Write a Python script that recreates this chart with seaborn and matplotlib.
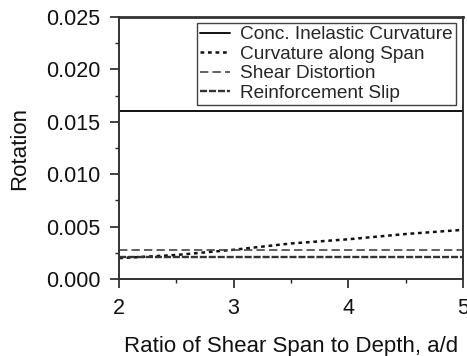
import numpy as np
import pandas as pd
import seaborn as sns
import matplotlib.pyplot as plt
from matplotlib.ticker import MultipleLocator

# ratio of shear span to depth
ad_ratio = [2.0, 2.5, 3.0, 3.5, 4.0, 4.5, 5.0]

# rotation components
conc_inelastic = [0.0160, 0.0160, 0.0160, 0.0160, 0.0160, 0.0160, 0.0160]
curv_along_span = [0.0020, 0.0023, 0.0028, 0.0034, 0.0038, 0.0043, 0.0047]
shear_distortion = [0.0028, 0.0028, 0.0028, 0.0028, 0.0028, 0.0028, 0.0028]
reinf_slip = [0.0021, 0.0021, 0.0021, 0.0021, 0.0021, 0.0021, 0.0021]

series_names = ["Conc. Inelastic Curvature", "Curvature along Span",
                "Shear Distortion", "Reinforcement Slip"]

sns.set_style("ticks")
plt.rcParams["font.family"] = ["Liberation Sans", "DejaVu Sans"]

df = pd.DataFrame({
    "ad": ad_ratio * 4,
    "rotation": conc_inelastic + curv_along_span + shear_distortion + reinf_slip,
    "component": np.repeat(series_names, len(ad_ratio)),
})

styles = {
    "Conc. Inelastic Curvature": dict(color="#111111", lw=1.4, dashes=None),
    "Curvature along Span": dict(color="#111111", lw=1.8, dashes=(1.5, 1.5)),
    "Shear Distortion": dict(color="#444444", lw=1.2, dashes=(5, 2.5)),
    "Reinforcement Slip": dict(color="#333333", lw=1.7, dashes=(3, 0.8)),
}

fig = plt.figure(figsize=(4.67, 3.56), dpi=100)
ax = fig.add_axes([0.255, 0.216, 0.736, 0.736])

for name in series_names:
    st = styles[name]
    sub = df[df["component"] == name]
    sns.lineplot(data=sub, x="ad", y="rotation", ax=ax, color=st["color"],
                 linewidth=st["lw"], label=name)
    if st["dashes"] is not None:
        ax.lines[-1].set_dashes(st["dashes"])

ax.set_xlim(2, 5)
ax.set_ylim(0, 0.025)
ax.xaxis.set_major_locator(MultipleLocator(1))
ax.xaxis.set_minor_locator(MultipleLocator(0.5))
ax.yaxis.set_major_locator(MultipleLocator(0.005))
ax.yaxis.set_minor_locator(MultipleLocator(0.0025))
ax.yaxis.set_major_formatter(plt.FormatStrFormatter("%.3f"))
ax.tick_params(axis="both", which="major", direction="out", length=6.5, width=1.2,
               labelsize=15.5, color="#222222", labelcolor="#111111", pad=7)
ax.tick_params(axis="both", which="minor", direction="out", length=3, width=1.0,
               color="#222222")
for sp in ax.spines.values():
    sp.set_visible(True)
    sp.set_color("#333333")
    sp.set_linewidth(1.4)
ax.spines["top"].set_linewidth(2.0)

ax.set_xlabel("Ratio of Shear Span to Depth, a/d", fontsize=16, color="#111111", labelpad=12)
ax.set_ylabel("Rotation", fontsize=16, color="#111111", labelpad=11)

leg = ax.legend(loc="upper right", bbox_to_anchor=(0.98, 0.977), fontsize=13.7,
                frameon=True, fancybox=False, edgecolor="#111111",
                handlelength=1.6, handletextpad=0.55, labelspacing=0.12,
                borderpad=0.15, borderaxespad=0.0)
leg.get_frame().set_linewidth(1.0)

fig.savefig("out.png", dpi=100)
